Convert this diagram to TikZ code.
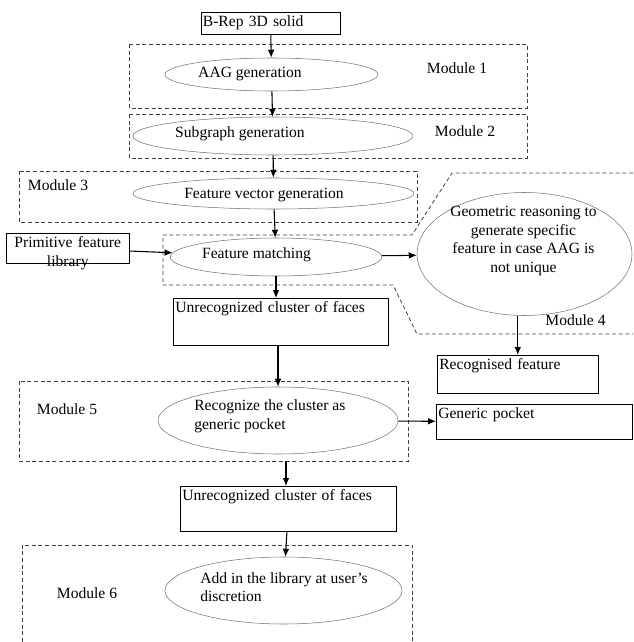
\documentclass[tikz,border=0pt]{standalone}
\usepackage{fontspec}
\setmainfont{Liberation Serif}
\usetikzlibrary{shapes.geometric,arrows.meta}

\tikzset{
  ell/.style={ellipse,draw=black!55,inner sep=0pt},
  tbox/.style={draw,rectangle,anchor=north west,align=left,inner xsep=1.5pt,inner ysep=3pt,text height=8pt},
  lbl/.style={inner sep=0pt},
  module/.style={draw=black!75,dash pattern=on 3pt off 2pt,line width=0.6pt},
  arr/.style={-{Latex[length=6pt,width=5pt]},line width=0.8pt}
}

\begin{document}
\begin{tikzpicture}[x=0.75pt,y=-0.75pt,font=\fontsize{11.7}{13.9}\selectfont]
\useasboundingbox (0,0) rectangle (633,642);
% module frames
\draw[module] (129,44) rectangle (527,108);
\draw[module] (129,114) rectangle (527,158);
\draw[module] (19,171) rectangle (417,222);
\draw[module] (633,173) -- (452,173) -- (412,235) -- (163,235) -- (163,285) -- (393,285) -- (417,334) -- (633,334);
\draw[module] (19,381) rectangle (408.5,461);
\draw[module] (22,642) -- (22,545) -- (412.6,545) -- (412.6,642);
\node[lbl] (m1) at (457,68) {Module 1};
\node[lbl] (m2) at (465,131) {Module 2};
\node[lbl] (m3) at (58,185) {Module 3};
\node[lbl] (m4) at (575.5,320) {Module 4};
\node[lbl] (m5) at (67,409) {Module 5};
\node[lbl] (m6) at (87,593) {Module 6};

\node[tbox,text width=101.6pt,text depth=2.5pt] (brep) at (200.6,12) {B-Rep 3D solid};
\node[ell,minimum width=159.75pt,minimum height=24.75pt] (aag) at (271.5,74.5) {};
\node[lbl] (aagt) at (250,74) {AAG generation};
\node[ell,minimum width=210pt,minimum height=28.5pt] (sub) at (273,136) {};
\node[lbl] (subt) at (240,134) {Subgraph generation};
\node[ell,minimum width=210.75pt,minimum height=23.25pt] (fv) at (273.5,193.5) {};
\node[lbl] (fvt) at (264,195) {Feature vector generation};
\node[ell,minimum width=158.6pt,minimum height=28.5pt] (fm) at (276,257) {};
\node[lbl] (fmt) at (256.5,255) {Feature matching};
\node[tbox,align=center,text width=89.25pt,text depth=8.85pt] (lib) at (6,233) {Primitive feature\\library};
\node[ell,minimum width=161.25pt,minimum height=92.25pt] (geo) at (524.5,254) {};
\node[lbl,align=center] (geot) at (523.5,241) {Geometric reasoning to\\generate specific\\feature in case AAG is\\not unique};
\node[tbox,text width=158.25pt,text depth=21.25pt] (unrA) at (173,298) {Unrecognized cluster of faces};
\node[tbox,text width=117.75pt,text depth=14.5pt] (recf) at (437,355) {Recognised feature};
\node[ell,minimum width=180pt,minimum height=50.25pt] (gen) at (278,420.5) {};
\node[lbl,align=left,anchor=west] (gent) at (194,416.5) {Recognize the cluster as\\generic pocket};
\node[tbox,text width=144pt,text depth=12.25pt] (pock) at (436,404) {Generic pocket};
\node[tbox,text width=159pt,text depth=19.75pt] (unrB) at (180,486) {Unrecognized cluster of faces};
\node[ell,minimum width=177.75pt,minimum height=50.25pt] (add) at (283.5,590.5) {};
\node[lbl,align=left,anchor=west] (addt) at (200,587) {Add in the library at user’s\\discretion};
\coordinate (m5b) at (286,461);

\draw[arr] (brep) -- (aag);
\draw[arr] (aag) -- (sub);
\draw[arr] (sub) -- (fv);
\draw[arr] (fv) -- (fm);
\draw[arr] (lib) -- (fm);
\draw[arr] (fm) -- (geo);
\draw[arr] (fm.south) -- (fm.south |- unrA.north);
\draw[arr] (geo.south -| recf.north) -- (recf.north);
\draw[arr] (gen.north |- unrA.south) -- (gen.north);
\draw[arr] (gen) -- (pock);
\draw[arr] (m5b) -- (m5b |- unrB.north);
\draw[arr] (unrB) -- (add);
\end{tikzpicture}
\end{document}
